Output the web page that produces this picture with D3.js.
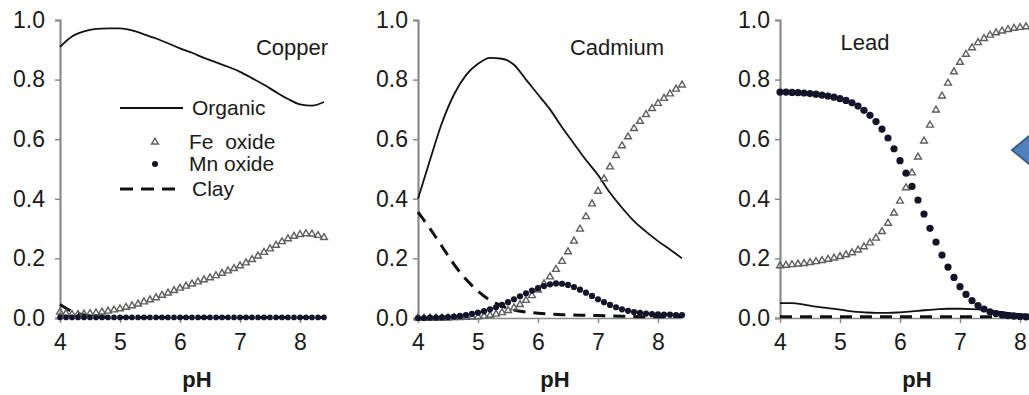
<!DOCTYPE html>
<html><head><meta charset="utf-8">
<script src="https://cdn.jsdelivr.net/npm/d3@7"></script>
<style>
html,body{margin:0;padding:0;background:#fff;}
svg{display:block;font-family:"Liberation Sans",Arial,sans-serif;}
text{white-space:pre;}
</style></head>
<body>
<svg id="chart" width="1029" height="395"></svg>
<script>
// ---- data ----
const phMarkers = d3.range(45).map(i => +(4 + i * 0.1).toFixed(1));   // pH 4.0 .. 8.4 step 0.1
const phLines = d3.range(23).map(i => +(4 + i * 0.2).toFixed(1));     // pH 4.0 .. 8.4 step 0.2
const xTicks = [4, 5, 6, 7, 8];
const yTicks = [0, 0.2, 0.4, 0.6, 0.8, 1.0];
const metals = ["Copper", "Cadmium", "Lead"];
const seriesNames = ["Organic", "Fe  oxide", "Mn oxide", "Clay"];

// Copper
const cuOrganic = [0.91,0.945,0.962,0.970,0.972,0.972,0.965,0.952,0.938,0.922,0.905,0.89,0.873,0.858,0.843,0.826,0.805,0.783,0.758,0.735,0.717,0.713,0.725];
const cuClay = [0.045,0.022,0.01,0.005,0.003,0.002,0.002,0.002,0.002,0.002,0.002,0.002,0.002,0.002,0.002,0.002,0.002,0.002,0.002,0.002,0.002,0.002,0.002];
const cuFe = [0.02,0.015,0.012,0.012,0.013,0.015,0.017,0.02,0.023,0.027,0.031,0.036,0.041,0.047,0.054,0.061,0.068,0.076,0.084,0.092,0.1,0.107,0.114,0.121,0.128,0.135,0.142,0.15,0.158,0.166,0.175,0.185,0.196,0.208,0.22,0.232,0.244,0.256,0.266,0.274,0.28,0.283,0.282,0.277,0.27];
const cuMn = [0.002,0.002,0.002,0.002,0.002,0.002,0.002,0.002,0.002,0.002,0.002,0.002,0.002,0.002,0.002,0.002,0.002,0.002,0.002,0.002,0.002,0.002,0.002,0.002,0.002,0.002,0.002,0.002,0.002,0.002,0.002,0.002,0.002,0.002,0.002,0.002,0.002,0.002,0.002,0.002,0.002,0.002,0.002,0.002,0.002];

// Cadmium
const cdOrganic = [0.40,0.53,0.655,0.75,0.815,0.853,0.873,0.87,0.85,0.80,0.75,0.70,0.64,0.585,0.53,0.48,0.42,0.37,0.325,0.29,0.258,0.23,0.20];
const cdClay = [0.355,0.30,0.24,0.18,0.13,0.09,0.06,0.04,0.027,0.02,0.016,0.013,0.011,0.01,0.009,0.008,0.007,0.006,0.005,0.004,0.004,0.005,0.005];
const cdFe = [0,0,0,0,0,0,0.001,0.001,0.002,0.003,0.004,0.006,0.009,0.013,0.018,0.025,0.034,0.045,0.059,0.075,0.094,0.115,0.138,0.163,0.19,0.222,0.258,0.298,0.34,0.383,0.425,0.467,0.507,0.545,0.578,0.608,0.636,0.66,0.683,0.703,0.72,0.737,0.752,0.768,0.782];
const cdMn = [0,0,0.001,0.001,0.002,0.003,0.005,0.007,0.01,0.014,0.018,0.023,0.029,0.036,0.044,0.053,0.063,0.073,0.083,0.092,0.1,0.107,0.113,0.116,0.115,0.111,0.104,0.095,0.085,0.074,0.063,0.053,0.044,0.036,0.029,0.024,0.02,0.017,0.015,0.013,0.012,0.011,0.011,0.01,0.01];

// Lead
const pbOrganic = [0.05,0.05,0.045,0.038,0.033,0.028,0.022,0.019,0.017,0.017,0.019,0.022,0.026,0.029,0.031,0.031,0.03,0.027,0.022,0.017,0.013,0.01,0.008];
const pbClay = [0.004,0.004,0.004,0.004,0.004,0.004,0.004,0.004,0.004,0.004,0.004,0.004,0.004,0.004,0.004,0.004,0.004,0.004,0.004,0.004,0.004,0.004,0.004];
const pbFe = [0.175,0.177,0.179,0.181,0.183,0.186,0.189,0.193,0.197,0.201,0.206,0.212,0.219,0.228,0.239,0.252,0.268,0.29,0.318,0.352,0.392,0.437,0.487,0.54,0.594,0.647,0.698,0.745,0.788,0.826,0.858,0.885,0.907,0.924,0.938,0.949,0.957,0.963,0.968,0.972,0.975,0.977,0.979,0.98,0.981];
const pbMn = [0.758,0.758,0.757,0.756,0.755,0.753,0.751,0.748,0.745,0.741,0.736,0.73,0.722,0.711,0.697,0.68,0.659,0.634,0.604,0.568,0.528,0.486,0.442,0.396,0.349,0.301,0.255,0.211,0.171,0.136,0.105,0.079,0.058,0.042,0.03,0.021,0.015,0.011,0.008,0.006,0.005,0.004,0.004,0.003,0.003];

// ---- layout ----
const panels = [
  {name: metals[0], organic: cuOrganic, clay: cuClay, fe: cuFe, mn: cuMn, x0: 60, labelGap: 15, title: [292, 47], dotR: 2.8},
  {name: metals[1], organic: cdOrganic, clay: cdClay, fe: cdFe, mn: cdMn, x0: 418, labelGap: 10, title: [617, 47], dotR: 3.1},
  {name: metals[2], organic: pbOrganic, clay: pbClay, fe: pbFe, mn: pbMn, x0: 780, labelGap: 10, title: [865, 42], dotR: 3.6}
];
const svg = d3.select("#chart");
const axisColor = "#8a8a8a";
const textColor = "#1a1a1a";
const y = d3.scaleLinear().domain([0, 1]).range([318, 20]);

panels.forEach(p => {
  const x = d3.scaleLinear().domain([4, 8.4]).range([p.x0, p.x0 + 264]);
  const g = svg.append("g");

  // axes
  const yAx = g.append("g").attr("transform", `translate(${p.x0},0)`)
    .call(d3.axisLeft(y).tickValues(yTicks).tickFormat(d3.format(".1f")).tickSize(5).tickPadding(p.labelGap - 5));
  yAx.select(".domain").attr("stroke", axisColor).attr("stroke-width", 2.2);
  yAx.selectAll(".tick line").attr("stroke", axisColor).attr("stroke-width", 1.5);
  yAx.selectAll(".tick text").attr("font-size", 23).attr("fill", textColor).attr("font-family", "Liberation Sans, Arial, sans-serif");

  const xAx = g.append("g").attr("transform", `translate(0,${y(0)})`)
    .call(d3.axisBottom(x).tickValues(xTicks).tickFormat(d3.format("d")).tickSizeInner(5).tickSizeOuter(0).tickPadding(11));
  xAx.select(".domain").attr("stroke", axisColor).attr("stroke-width", 1.5);
  xAx.selectAll(".tick line").attr("stroke", axisColor).attr("stroke-width", 1.5);
  xAx.selectAll(".tick text").attr("font-size", 23).attr("fill", textColor).attr("font-family", "Liberation Sans, Arial, sans-serif");

  g.append("text").attr("x", p.x0 + 137).attr("y", 387).attr("text-anchor", "middle")
    .attr("font-size", 22).attr("font-weight", "bold").attr("fill", textColor).text("pH");

  g.append("text").attr("x", p.title[0]).attr("y", p.title[1] + 8).attr("text-anchor", "middle")
    .attr("font-size", 22).attr("fill", textColor).text(p.name);

  const line = d3.line().x((d, i) => x(phLines[i])).y(d => y(d)).curve(d3.curveMonotoneX);

  g.append("path").attr("d", line(p.clay)).attr("fill", "none").attr("stroke", "#111")
    .attr("stroke-width", 3).attr("stroke-dasharray", "12,8");
  g.append("path").attr("d", line(p.organic)).attr("fill", "none").attr("stroke", "#111")
    .attr("stroke-width", 1.8);

  const tri = d3.symbol().type(d3.symbolTriangle).size(20);
  g.append("g").selectAll("path").data(p.fe).join("path")
    .attr("transform", (d, i) => `translate(${x(phMarkers[i])},${y(d)})`)
    .attr("d", tri).attr("fill", "none").attr("stroke", "#5e5e5e").attr("stroke-width", 1.4);

  g.append("g").selectAll("circle").data(p.mn).join("circle")
    .attr("cx", (d, i) => x(phMarkers[i])).attr("cy", d => y(d)).attr("r", p.dotR)
    .attr("fill", "#13132a");
});

// legend (inside Copper panel)
const lg = svg.append("g").attr("font-size", 21).attr("fill", textColor);
lg.append("line").attr("x1", 120).attr("x2", 183).attr("y1", 108).attr("y2", 108).attr("stroke", "#111").attr("stroke-width", 1.8);
lg.append("text").attr("x", 192).attr("y", 115).text(seriesNames[0]);
lg.append("path").attr("transform", "translate(155,142)").attr("d", d3.symbol().type(d3.symbolTriangle).size(20)())
  .attr("fill", "none").attr("stroke", "#5e5e5e").attr("stroke-width", 1.4);
lg.append("text").attr("x", 189).attr("y", 149).text(seriesNames[1]);
lg.append("circle").attr("cx", 155).attr("cy", 164).attr("r", 3).attr("fill", "#13132a");
lg.append("text").attr("x", 189).attr("y", 171).text(seriesNames[2]);
lg.append("line").attr("x1", 120).attr("x2", 183).attr("y1", 189).attr("y2", 189).attr("stroke", "#111")
  .attr("stroke-width", 3).attr("stroke-dasharray", "13,8");
lg.append("text").attr("x", 192).attr("y", 196).text(seriesNames[3]);

// blue arrow at right edge
svg.append("polygon").attr("points", "1012,150 1046,122 1046,178")
  .attr("fill", "#4f81bd").attr("stroke", "#385d8a").attr("stroke-width", 2);
</script>
</body></html>
